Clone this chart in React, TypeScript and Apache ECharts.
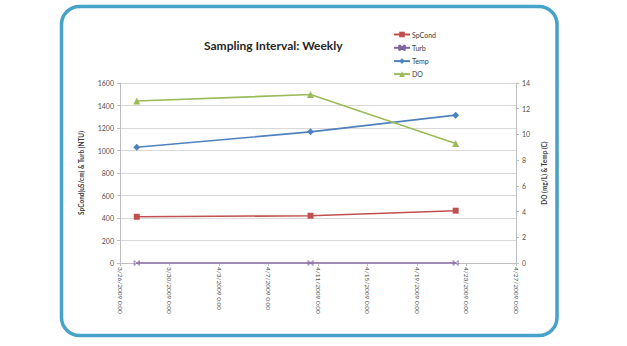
import React, { useEffect, useRef } from "react";
import * as echarts from "echarts";

// ---- data ----
const titleText = "Sampling Interval: Weekly";
const sampleTimes = ["2009-03-27T08:30", "2009-04-10T09:30", "2009-04-22T03:00"];
const spCond = [411, 420, 465];
const turb = [0, 0, 0];
const temp = [9.0, 10.2, 11.5];
const dissolvedO2 = [12.6, 13.1, 9.3];
const seriesNames = ["SpCond", "Turb", "Temp", "DO"];
const axisStart = "2009-03-26T00:00";
const axisSpanDays = 32;
const tickStepDays = 4;
const leftAxisName = "SpCond(uS/cm) & Turb (NTU)";
const rightAxisName = "DO (mg/L) & Temp (C)";

const DAY = 86400000;
const t0 = Date.parse(axisStart + "Z");
const toDays = (s: string) => (Date.parse(s + "Z") - t0) / DAY;
const fmtDate = (v: number) => {
  const d = new Date(t0 + v * DAY);
  return `${d.getUTCMonth() + 1}/${d.getUTCDate()}/${d.getUTCFullYear()} 0:00`;
};

const COLORS = ["#c0504d", "#8064a2", "#4f81bd", "#9bbb59"];

export default function App() {
  const ref = useRef<HTMLDivElement>(null);
  useEffect(() => {
    if (!ref.current) return;
    const chart = echarts.init(ref.current, null, { renderer: "svg" });
    const xs = sampleTimes.map(toDays);
    const pair = (arr: number[]) => arr.map((v, i) => [xs[i], v]);
    const axisColor = "#bfbfbf";
    const labelColor = "#505050";
    const font = "Lato";
    chart.setOption({
      animation: false,
      backgroundColor: "#ffffff",
      textStyle: { fontFamily: font },
      title: {
        text: titleText,
        left: 204,
        top: 39,
        padding: 0,
        textStyle: { fontSize: 12, fontWeight: "bold", color: "#262626", fontFamily: font },
      },
      legend: {
        orient: "vertical",
        left: 393,
        top: 31,
        padding: 0,
        itemWidth: 16,
        itemHeight: 7,
        itemGap: 6,
        data: seriesNames,
        textStyle: { fontSize: 7, color: "#404040", fontFamily: font, padding: [0, 0, 0, -3] },
      },
      graphic: [
        {
          type: "rect",
          shape: { x: 61.5, y: 6.5, width: 495.5, height: 329, r: 18 },
          style: { fill: "none", stroke: "#46a2c9", lineWidth: 3.5 },
          silent: true,
        },
      ],
      grid: { left: 120, right: 111, top: 83, bottom: 83 },
      xAxis: {
        type: "value",
        min: 0,
        max: axisSpanDays,
        interval: tickStepDays,
        axisLine: { show: true, onZero: false, lineStyle: { color: axisColor } },
        axisTick: { show: true, length: 3, lineStyle: { color: axisColor } },
        splitLine: { show: false },
        axisLabel: {
          rotate: -90,
          fontSize: 6.5,
          color: labelColor,
          margin: 4,
          formatter: (v: number) => fmtDate(v),
        },
      },
      yAxis: [
        {
          type: "value",
          min: 0,
          max: 1600,
          interval: 200,
          position: "left",
          name: leftAxisName,
          nameLocation: "middle",
          nameRotate: 90,
          nameGap: 35,
          nameTextStyle: { fontSize: 6.5, fontWeight: "bold", color: "#404040" },
          axisLine: { show: true, lineStyle: { color: axisColor } },
          axisTick: { show: true, length: 3, lineStyle: { color: axisColor } },
          axisLabel: { fontSize: 7, color: labelColor, margin: 6, formatter: (v: number) => String(v) },
          splitLine: { show: true, lineStyle: { color: "#d9d9d9", width: 1 } },
        },
        {
          type: "value",
          min: 0,
          max: 14,
          interval: 2,
          position: "right",
          name: rightAxisName,
          nameLocation: "middle",
          nameRotate: 90,
          nameGap: 12,
          nameTextStyle: { fontSize: 6.5, fontWeight: "bold", color: "#404040" },
          axisLine: { show: true, lineStyle: { color: axisColor } },
          axisTick: { show: true, length: 3, lineStyle: { color: axisColor } },
          axisLabel: { fontSize: 7, color: labelColor, margin: 6, formatter: (v: number) => String(v) },
          splitLine: { show: false },
        },
      ],
      series: [
        {
          name: seriesNames[0],
          type: "line",
          yAxisIndex: 0,
          data: pair(spCond),
          symbol: "rect",
          symbolSize: 6,
          lineStyle: { color: COLORS[0], width: 1.6 },
          itemStyle: { color: COLORS[0] },
        },
        {
          name: seriesNames[1],
          type: "line",
          yAxisIndex: 0,
          data: pair(turb),
          symbol: "path://M0,0L10,10M10,0L0,10M0,0L0,10M10,0L10,10",
          symbolSize: 5,
          lineStyle: { color: COLORS[1], width: 1.6 },
          itemStyle: { color: COLORS[1], borderColor: COLORS[1], borderWidth: 0.8 },
        },
        {
          name: seriesNames[2],
          type: "line",
          yAxisIndex: 1,
          data: pair(temp),
          symbol: "diamond",
          symbolSize: 7,
          lineStyle: { color: COLORS[2], width: 1.6 },
          itemStyle: { color: COLORS[2] },
        },
        {
          name: seriesNames[3],
          type: "line",
          yAxisIndex: 1,
          data: pair(dissolvedO2),
          symbol: "triangle",
          symbolSize: 7,
          lineStyle: { color: COLORS[3], width: 1.6 },
          itemStyle: { color: COLORS[3] },
        },
      ],
    });
    return () => chart.dispose();
  }, []);
  return (
    <div
      ref={ref}
      style={{ position: "fixed", left: 0, top: 0, width: 627, height: 346, background: "#fff" }}
    />
  );
}
